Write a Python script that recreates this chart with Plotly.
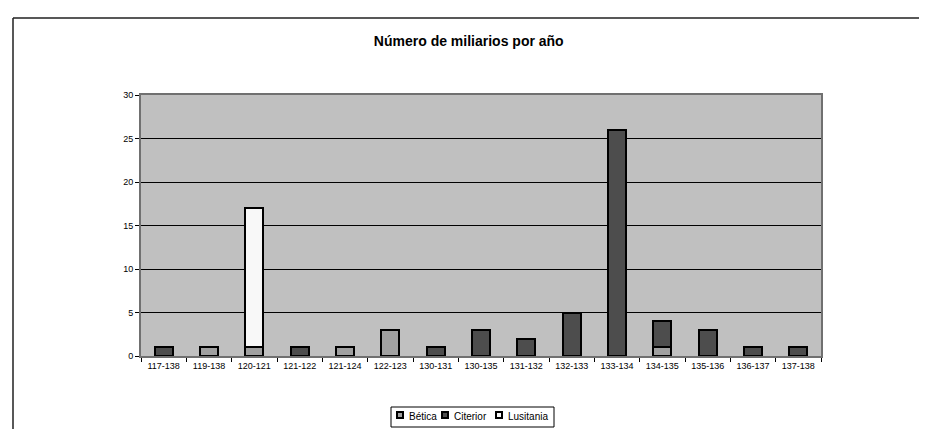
import plotly.graph_objects as go

categories = ["117-138", "119-138", "120-121", "121-122", "121-124", "122-123", "130-131",
              "130-135", "131-132", "132-133", "133-134", "134-135", "135-136", "136-137", "137-138"]
betica    = [0, 1, 1, 0, 1, 3, 0, 0, 0, 0, 0, 1, 0, 0, 0]
citerior  = [1, 0, 0, 1, 0, 0, 1, 3, 2, 5, 26, 3, 3, 1, 1]
lusitania = [0, 0, 16, 0, 0, 0, 0, 0, 0, 0, 0, 0, 0, 0, 0]
series_names = ["Bética", "Citerior", "Lusitania"]
series_colors = ["#a0a0a0", "#4d4d4d", "#f8f8f8"]

def nz(vals):
    return [v if v else None for v in vals]

FONT = "Liberation Sans, Arial, sans-serif"

fig = go.Figure()
for name, vals, col in zip(series_names, [betica, citerior, lusitania], series_colors):
    fig.add_trace(go.Bar(x=categories, y=nz(vals), name=name, width=0.4,
                         marker=dict(color=col, line=dict(color="#000000", width=2))))

W, H = 927, 429
L, R, T, B = 133, 114, 87, 81
pw, ph = W - L - R, H - T - B

def px(x):
    return (x - L) / pw

def py(y):
    return (H - B - y) / ph

fig.update_layout(
    width=W, height=H, barmode="stack",
    margin=dict(l=L, r=R, t=T, b=B, pad=0),
    paper_bgcolor="white", plot_bgcolor="#c0c0c0",
    font=dict(family=FONT, size=9, color="#000000"),
    title=dict(text="<b>Número de miliarios por año</b>", x=px(471), xanchor="center",
               y=1 - 33 / H, yanchor="middle", font=dict(family=FONT, size=14, color="#000000")),
    showlegend=False,
    bargap=0.6,
)
fig.update_xaxes(type="category", showline=True, linecolor="#707070", linewidth=2, mirror=True,
                 ticks="outside", tickson="boundaries", ticklen=4, tickcolor="#000000",
                 tickfont=dict(family=FONT, size=9), showgrid=False)
fig.update_yaxes(range=[0, 30], dtick=5, showline=True, linecolor="#707070", linewidth=2, mirror=True,
                 ticks="outside", ticklen=4, tickcolor="#000000", showgrid=True,
                 gridcolor="#000000", gridwidth=1, zeroline=False,
                 tickfont=dict(family=FONT, size=9))

# outer chart frame (only top and left edges fall inside the picture)
fig.add_shape(type="line", xref="paper", yref="paper", x0=px(5), x1=px(940), y0=py(10), y1=py(10),
              line=dict(color="#202020", width=1.5))
fig.add_shape(type="line", xref="paper", yref="paper", x0=px(5), x1=px(5), y0=py(10), y1=py(440),
              line=dict(color="#202020", width=1.5))

# legend box drawn by hand (compact, like the original)
fig.add_shape(type="rect", xref="paper", yref="paper", x0=px(383), x1=px(546), y0=py(399), y1=py(419),
              line=dict(color="#000000", width=1), fillcolor="white")
marker_x = [389, 434, 488]
text_x = [399, 444, 498]
for name, col, mx, tx in zip(series_names, series_colors, marker_x, text_x):
    fig.add_shape(type="rect", xref="paper", yref="paper", x0=px(mx), x1=px(mx + 6),
                  y0=py(404), y1=py(410), line=dict(color="#000000", width=2), fillcolor=col)
    fig.add_annotation(text=name, xref="paper", yref="paper", x=px(tx), y=py(408),
                       xanchor="left", yanchor="middle", showarrow=False,
                       font=dict(family=FONT, size=10, color="#000000"))

fig.write_html("out.html")
